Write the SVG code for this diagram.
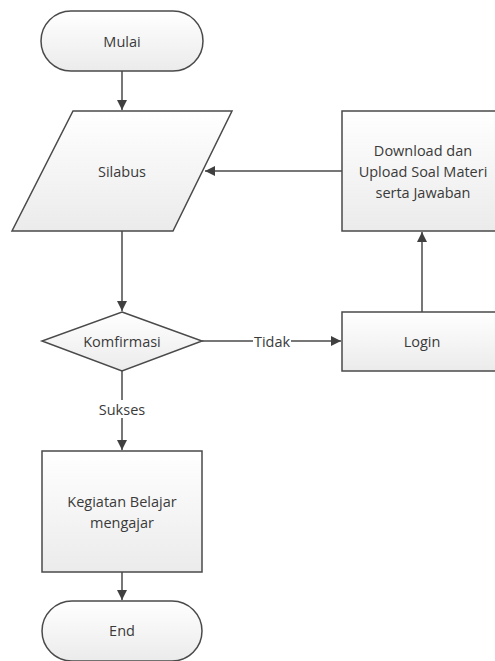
<svg xmlns="http://www.w3.org/2000/svg" width="495" height="661" viewBox="0 0 495 661">
<defs>
<linearGradient id="g" x1="0" y1="0" x2="0" y2="1">
<stop offset="0" stop-color="#ffffff"/>
<stop offset="1" stop-color="#ebebeb"/>
</linearGradient>
<marker id="ah" viewBox="0 0 10 10" refX="10" refY="5" markerWidth="10" markerHeight="10" markerUnits="userSpaceOnUse" orient="auto">
<path d="M0,0 L10,5 L0,10 Z" fill="#404040"/>
</marker>
<style>
.s{fill:url(#g);stroke:#4a4a4a;stroke-width:1.5}
.c{fill:none;stroke:#4a4a4a;stroke-width:1.5}
text{font-family:"Open Sans","Liberation Sans",sans-serif;font-size:14.5px;fill:#3a3a3a;text-anchor:middle;dominant-baseline:central}
.lb{fill:#ffffff;stroke:none}
</style>
</defs>
<rect width="495" height="661" fill="#ffffff"/>
<g id="connectors">
<line class="c" x1="122" y1="71" x2="122" y2="110" marker-end="url(#ah)"/>
<line class="c" x1="122" y1="231" x2="122" y2="311" marker-end="url(#ah)"/>
<line class="c" x1="342" y1="171" x2="205" y2="171" marker-end="url(#ah)"/>
<line class="c" x1="422" y1="312" x2="422" y2="232" marker-end="url(#ah)"/>
<line class="c" x1="202" y1="341" x2="341" y2="341" marker-end="url(#ah)"/>
<rect class="lb" x="253" y="332" width="38" height="18"/>
<text x="272" y="341">Tidak</text>
<line class="c" x1="122" y1="371" x2="122" y2="450" marker-end="url(#ah)"/>
<rect class="lb" x="96" y="400" width="52" height="18"/>
<text x="122" y="409">Sukses</text>
<line class="c" x1="122" y1="572" x2="122" y2="600" marker-end="url(#ah)"/>
</g>
<g id="mulai">
<rect class="s" x="41" y="11" width="162" height="60" rx="30" ry="30"/>
<text x="122" y="41">Mulai</text>
</g>
<g id="silabus">
<polygon class="s" points="73,111 232,111 173,231 12,231"/>
<text x="122" y="171">Silabus</text>
</g>
<g id="download">
<rect class="s" x="342" y="111" width="160" height="120"/>
<text x="423" y="150">Download dan</text>
<text x="423" y="171">Upload Soal Materi</text>
<text x="423" y="192">serta Jawaban</text>
</g>
<g id="komfirmasi">
<polygon class="s" points="122,312 202,341 122,371 42,341"/>
<text x="122" y="341">Komfirmasi</text>
</g>
<g id="login">
<rect class="s" x="342" y="312" width="160" height="59"/>
<text x="422" y="341">Login</text>
</g>
<g id="kegiatan">
<rect class="s" x="42" y="451" width="160" height="121"/>
<text x="122" y="501">Kegiatan Belajar</text>
<text x="122" y="522">mengajar</text>
</g>
<g id="end">
<rect class="s" x="42" y="601" width="160" height="60" rx="30" ry="30"/>
<text x="122" y="630">End</text>
</g>
</svg>
